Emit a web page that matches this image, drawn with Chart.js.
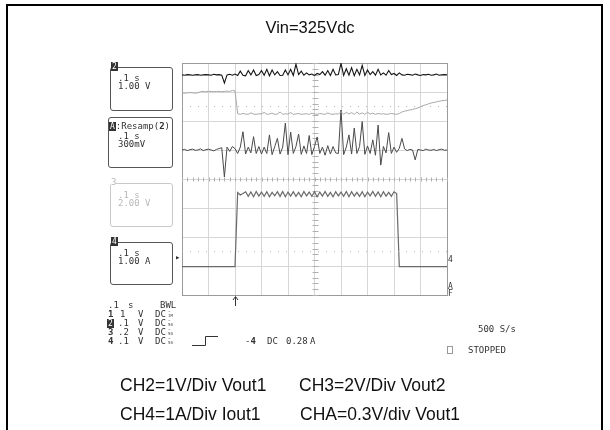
<!DOCTYPE html>
<html>
<head>
<meta charset="utf-8">
<script src="https://cdn.jsdelivr.net/npm/chart.js@4/dist/chart.umd.min.js"></script>
<style>
  html, body { margin: 0; padding: 0; background: #fff; }
  #page { position: relative; width: 610px; height: 430px; overflow: hidden; }
  #frame { position: absolute; left: 6px; top: 4px; width: 593px; height: 460px; border: 2px solid #000; border-bottom: none; }
  #scope { position: absolute; left: 0; top: 0; }
  .t { position: absolute; font-family: "DejaVu Sans Mono", monospace; font-size: 9px; line-height: 9px; color: #333; white-space: pre; }
  .gray { color: #b8b8b8; }
  .box { position: absolute; border: 1px solid #555; border-radius: 3px; }
  .badge { position: absolute; background: #333; color: #fff; font-family: "DejaVu Sans Mono", monospace; font-size: 8px; line-height: 9px; padding: 0 1px; }
  .tiny { position: absolute; font-family: "DejaVu Sans Mono", monospace; font-size: 4px; line-height: 4px; color: #444; white-space: pre; }
  .big { position: absolute; font-family: "Liberation Sans", Arial, sans-serif; font-size: 17.5px; line-height: 20px; color: #111; white-space: nowrap; }
</style>
</head>
<body>
<div id="page">
  <div id="frame"></div>
  <canvas id="scope" width="610" height="430"></canvas>

  <div class="big" id="title" style="left:0;width:620px;text-align:center;top:17px;font-size:16.5px;">Vin=325Vdc</div>

  <!-- channel boxes -->
  <div class="box" style="left:110px;top:67px;width:61px;height:42px;"></div>
  <span class="badge" style="left:111px;top:62px;">2</span>
  <div class="t" style="left:118px;top:74px;">.1 s</div>
  <div class="t" style="left:118px;top:82px;">1.00 V</div>

  <div class="box" style="left:108px;top:117px;width:63px;height:49px;"></div>
  <div class="t" style="left:109px;top:122px;background:#fff;"><span class="badge" style="position:static;">A</span>:Resamp(<b>2</b>)</div>
  <div class="t" style="left:118px;top:132px;">.1 s</div>
  <div class="t" style="left:118px;top:140px;">300mV</div>

  <div class="box" style="left:110px;top:183px;width:61px;height:42px;border-color:#c8c8c8;"></div>
  <div class="t gray" style="left:111px;top:178px;background:#fff;">3</div>
  <div class="t gray" style="left:118px;top:191px;">.1 s</div>
  <div class="t gray" style="left:118px;top:199px;">2.00 V</div>

  <div class="box" style="left:110px;top:242px;width:61px;height:41px;"></div>
  <span class="badge" style="left:111px;top:237px;">4</span>
  <div class="t" style="left:118px;top:249px;">.1 s</div>
  <div class="t" style="left:118px;top:257px;">1.00 A</div>

  <!-- markers around the grid -->
  <div class="t" style="left:175px;top:253px;font-size:9px;">&#9656;</div>
  <div class="t" style="left:448px;top:255px;font-size:8px;">4</div>
  <div class="t" style="left:448px;top:283px;font-size:8px;line-height:7px;">A<br>F</div>
  <svg style="position:absolute;left:0;top:0;" width="610" height="430">
    <path d="M235.5 306 L235.5 297 M233 300 L235.5 296.5 L238 300" stroke="#333" stroke-width="1" fill="none"/>
    <polyline points="192,345.5 205.5,345.5 205.5,336.5 218,336.5" stroke="#333" stroke-width="1" fill="none"/>
  </svg>

  <!-- bottom-left settings -->
  <div class="t" style="left:108px;top:301px;">.1</div>
  <div class="t" style="left:128px;top:301px;">s</div>
  <div class="t" style="left:160px;top:301px;">BWL</div>

  <div class="t" style="left:108px;top:310px;"><b>1</b></div>
  <div class="t" style="left:120px;top:310px;">1</div>
  <div class="t" style="left:138px;top:310px;">V</div>
  <div class="t" style="left:155px;top:310px;">DC</div>
  <div class="tiny" style="left:168px;top:310px;">~
1M</div>

  <span class="badge" style="left:107px;top:319px;">2</span>
  <div class="t" style="left:118px;top:319px;">.1</div>
  <div class="t" style="left:138px;top:319px;">V</div>
  <div class="t" style="left:155px;top:319px;">DC</div>
  <div class="tiny" style="left:168px;top:319px;">~
50</div>

  <div class="t" style="left:108px;top:328px;"><b>3</b></div>
  <div class="t" style="left:118px;top:328px;">.2</div>
  <div class="t" style="left:138px;top:328px;">V</div>
  <div class="t" style="left:155px;top:328px;">DC</div>
  <div class="tiny" style="left:168px;top:328px;">~
50</div>

  <div class="t" style="left:108px;top:337px;"><b>4</b></div>
  <div class="t" style="left:118px;top:337px;">.1</div>
  <div class="t" style="left:138px;top:337px;">V</div>
  <div class="t" style="left:155px;top:337px;">DC</div>
  <div class="tiny" style="left:168px;top:337px;">~
50</div>

  <div class="t" style="left:245px;top:337px;">-<b>4</b></div>
  <div class="t" style="left:267px;top:337px;">DC</div>
  <div class="t" style="left:286px;top:337px;">0.28</div>
  <div class="t" style="left:310px;top:337px;">A</div>

  <div class="t" style="left:478px;top:325px;">500 S/s</div>
  <div style="position:absolute;left:447px;top:346px;width:4px;height:6px;border:1px solid #999;"></div>
  <div class="t" style="left:468px;top:346px;">STOPPED</div>

  <!-- captions -->
  <div class="big" style="left:120px;top:375px;">CH2=1V/Div Vout1</div>
  <div class="big" style="left:299px;top:375px;">CH3=2V/Div Vout2</div>
  <div class="big" style="left:120px;top:404px;">CH4=1A/Div Iout1</div>
  <div class="big" style="left:300px;top:404px;">CHA=0.3V/div Vout1</div>
</div>

<script>
// .1 s/div, 10 divisions; values are in screen divisions (each channel has its own V/div)
const sampleStep = 0.01; // s

const ch2Values = [
  3.59, 3.58, 3.60, 3.59, 3.58, 3.59, 3.60, 3.58, 3.59, 3.60,
  3.59, 3.58, 3.61, 3.59, 3.60, 3.58, 3.31, 3.59, 3.61, 3.58,
  3.62, 3.57, 3.72, 3.58, 3.56, 3.74, 3.59, 3.76, 3.57, 3.60,
  3.74, 3.58, 3.78, 3.56, 3.76, 3.59, 3.70, 3.57, 3.58, 3.76,
  3.59, 3.78, 3.57, 3.96, 3.60, 3.72, 3.58, 3.66, 3.59, 3.62,
  3.57, 3.64, 3.60, 3.70, 3.58, 3.74, 3.57, 3.78, 3.59, 3.60,
  3.99, 3.57, 3.80, 3.58, 3.84, 3.56, 3.78, 3.59, 3.92, 3.57,
  3.76, 3.60, 3.70, 3.58, 3.78, 3.59, 3.66, 3.58, 3.74, 3.60,
  3.64, 3.57, 3.66, 3.59, 3.58, 3.61, 3.60, 3.58, 3.62, 3.59,
  3.57, 3.60, 3.59, 3.61, 3.58, 3.59, 3.62, 3.58, 3.59, 3.60,
  3.59
];

const ch3Values = [
  2.97, 2.96, 2.97, 2.98, 2.97, 2.96, 2.97, 3.01, 3.02, 3.01,
  3.02, 3.02, 3.01, 3.02, 3.02, 3.01, 3.02, 3.03, 3.02, 3.05,
  3.04, 2.25, 2.23, 2.26, 2.24, 2.23, 2.28, 2.24, 2.23, 2.25,
  2.24, 2.30, 2.23, 2.24, 2.27, 2.23, 2.24, 2.31, 2.23, 2.25,
  2.24, 2.29, 2.23, 2.24, 2.26, 2.23, 2.24, 2.25, 2.23, 2.27,
  2.24, 2.23, 2.26, 2.24, 2.23, 2.28, 2.24, 2.23, 2.25, 2.24,
  2.32, 2.23, 2.30, 2.24, 2.29, 2.23, 2.31, 2.24, 2.28, 2.23,
  2.30, 2.24, 2.27, 2.23, 2.26, 2.24, 2.25, 2.23, 2.24, 2.26,
  2.24, 2.23, 2.26, 2.31, 2.34, 2.36, 2.38, 2.40, 2.42, 2.45,
  2.49, 2.53, 2.56, 2.59, 2.62, 2.64, 2.66, 2.68, 2.70, 2.71,
  2.72
];

const chaValues = [
  1.00, 1.02, 0.98, 1.01, 1.03, 0.99, 1.00, 1.04, 0.98, 1.01,
  1.03, 1.00, 0.97, 1.02, 1.05, 1.08, 0.07, 1.10, 0.95, 1.12,
  1.05, 0.88, 1.10, 1.63, 0.86, 1.10, 0.90, 1.46, 0.88, 1.12,
  0.86, 1.10, 0.88, 1.52, 0.84, 1.12, 1.40, 0.86, 1.10, 1.93,
  0.84, 1.62, 0.88, 1.12, 1.55, 0.85, 1.14, 0.88, 1.50, 0.84,
  1.12, 1.45, 0.88, 1.10, 0.82, 1.15, 0.86, 1.12, 0.90, 0.88,
  2.38, 0.84, 1.10, 1.52, 0.86, 1.76, 0.88, 1.12, 1.98, 0.85,
  1.14, 0.88, 1.35, 0.82, 1.86, 0.48, 1.12, 0.90, 1.60, 0.88,
  1.10, 0.92, 1.06, 1.40, 1.04, 0.98, 1.02, 1.00, 0.66, 1.02,
  1.00, 0.98, 1.03, 1.00, 0.99, 1.02, 0.98, 1.01, 1.03, 0.99,
  1.00
];

const ch4Values = [
  -3.02, -3.02, -3.02, -3.02, -3.02, -3.02, -3.02, -3.02, -3.02, -3.02,
  -3.02, -3.02, -3.02, -3.02, -3.02, -3.02, -3.02, -3.02, -3.02, -3.02,
  -3.02, -0.47, -0.55, -0.50, -0.44, -0.60, -0.45, -0.61, -0.43, -0.59,
  -0.45, -0.60, -0.44, -0.61, -0.46, -0.58, -0.44, -0.60, -0.43, -0.61,
  -0.45, -0.59, -0.44, -0.60, -0.46, -0.61, -0.43, -0.58, -0.45, -0.60,
  -0.44, -0.61, -0.45, -0.59, -0.43, -0.60, -0.46, -0.61, -0.44, -0.58,
  -0.45, -0.60, -0.43, -0.61, -0.44, -0.59, -0.46, -0.60, -0.44, -0.61,
  -0.45, -0.58, -0.43, -0.60, -0.45, -0.61, -0.44, -0.59, -0.46, -0.60,
  -0.44, -0.50, -3.02, -3.02, -3.02, -3.02, -3.02, -3.02, -3.02, -3.02,
  -3.02, -3.02, -3.02, -3.02, -3.02, -3.02, -3.02, -3.02, -3.02, -3.02,
  -3.02
];

// dotted marker levels on the screen (divisions)
const refLevels = [2.5, -2.5];

const toPoints = (vals) => vals.map((v, i) => ({ x: +(i * sampleStep).toFixed(2), y: v }));

const centerTicks = {
  id: "centerTicks",
  beforeDatasetsDraw(chart) {
    const { ctx, scales: { x, y } } = chart;
    const cx = Math.round(x.getPixelForValue(0.5)) + 0.5;
    const cy = Math.round(y.getPixelForValue(0)) + 0.5;
    ctx.save();
    ctx.strokeStyle = "#b0b0b0";
    ctx.lineWidth = 1;
    ctx.beginPath();
    for (let v = 0; v <= 1.0001; v += 0.02) {
      const px = Math.round(x.getPixelForValue(v)) + 0.5;
      ctx.moveTo(px, cy - 2);
      ctx.lineTo(px, cy + 2);
    }
    for (let v = -4; v <= 4.0001; v += 0.2) {
      const py = Math.round(y.getPixelForValue(v)) + 0.5;
      ctx.moveTo(cx - 3, py);
      ctx.lineTo(cx + 3, py);
    }
    ctx.stroke();
    ctx.restore();
  },
};

const refSets = refLevels.map((lv) => ({
  data: [{ x: 0, y: lv }, { x: 1, y: lv }],
  borderColor: "#b5b5b5",
  borderWidth: 1,
  borderDash: [1, 7],
}));

const edgeColor = (ctx, lo, hi) =>
  ctx.tick && (Math.abs(ctx.tick.value - lo) < 1e-6 || Math.abs(ctx.tick.value - hi) < 1e-6) ? "#9a9a9a" : "#d6d6d6";

new Chart(document.getElementById("scope"), {
  type: "line",
  data: {
    datasets: [
      ...refSets,
      { label: "CH3", data: toPoints(ch3Values), borderColor: "#a8a8a8", borderWidth: 1 },
      { label: "CH4", data: toPoints(ch4Values), borderColor: "#6a6a6a", borderWidth: 1.2 },
      { label: "CHA", data: toPoints(chaValues), borderColor: "#4a4a4a", borderWidth: 1 },
      { label: "CH2", data: toPoints(ch2Values), borderColor: "#151515", borderWidth: 1.1 },
    ],
  },
  options: {
    responsive: false,
    animation: false,
    layout: { padding: { left: 182, right: 163, top: 63, bottom: 135 } },
    elements: { point: { radius: 0 }, line: { tension: 0 } },
    plugins: { legend: { display: false }, tooltip: { enabled: false } },
    scales: {
      x: {
        type: "linear",
        min: 0,
        max: 1,
        ticks: { display: false, stepSize: 0.1 },
        grid: { drawTicks: false, color: (c) => edgeColor(c, 0, 1) },
        border: { color: "#9a9a9a" },
      },
      y: {
        min: -4,
        max: 4,
        ticks: { display: false, stepSize: 1 },
        grid: { drawTicks: false, color: (c) => edgeColor(c, -4, 4) },
        border: { color: "#9a9a9a" },
      },
    },
  },
  plugins: [centerTicks],
});
</script>
</body>
</html>
